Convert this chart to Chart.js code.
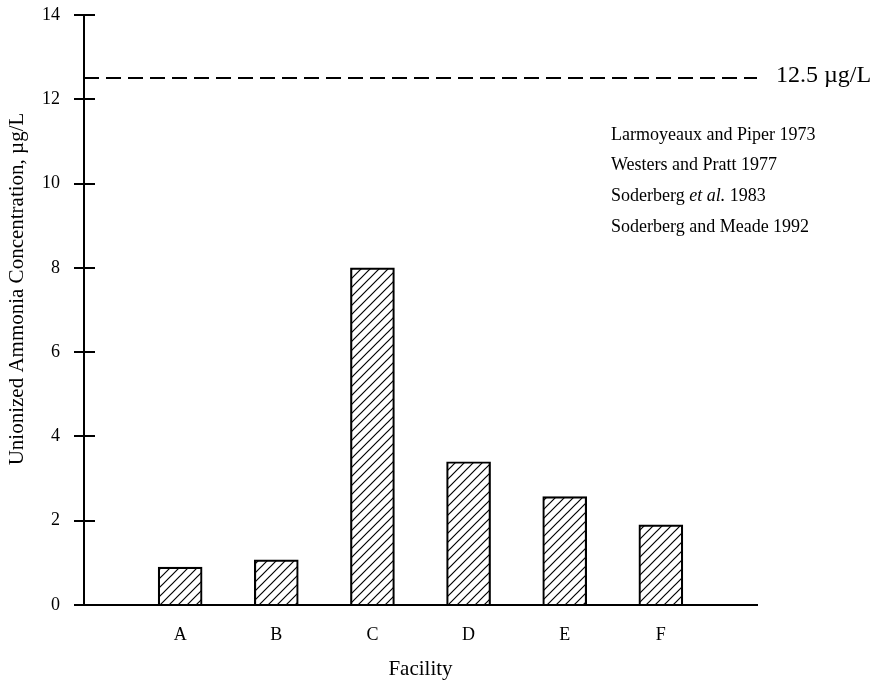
<!DOCTYPE html>
<html>
<head>
<meta charset="utf-8">
<script src="https://cdn.jsdelivr.net/npm/chart.js@4/dist/chart.umd.min.js"></script>
<style>
  html, body { margin: 0; padding: 0; background: #fff; }
  canvas { display: block; }
</style>
</head>
<body>
<canvas id="chart" width="877" height="685"></canvas>
<script>
// data
const facilities = ["A", "B", "C", "D", "E", "F"];
const concentrations = [0.9, 1.07, 8.0, 3.4, 2.57, 1.9];
const yMax = 14;
const yStep = 2;
const threshold = 12.5;
const thresholdLabel = "12.5 \u00b5g/L";
const yTitle = "Unionized Ammonia Concentration, \u00b5g/L";
const xTitle = "Facility";
const references = [
  ["Larmoyeaux and Piper 1973"],
  ["Westers and Pratt 1977"],
  ["Soderberg ", "et al.", " 1983"],
  ["Soderberg and Meade 1992"],
];

const serif = "'Liberation Serif', 'DejaVu Serif', serif";
const canvas = document.getElementById("chart");
const ctx = canvas.getContext("2d");

// diagonal hatch for the bars
function hatchPattern() {
  const n = 9;
  const c = document.createElement("canvas");
  c.width = n;
  c.height = n;
  const g = c.getContext("2d");
  g.strokeStyle = "#000";
  g.lineWidth = 1.2;
  g.beginPath();
  g.moveTo(0, n);
  g.lineTo(n, 0);
  g.moveTo(-1, 1);
  g.lineTo(1, -1);
  g.moveTo(n - 1, n + 1);
  g.lineTo(n + 1, n - 1);
  g.stroke();
  return ctx.createPattern(c, "repeat");
}

// empty slots at both ends so the bars sit one step in from the axis ends
const labels = ["", ...facilities, ""];
const values = [null, ...concentrations, null];

const extras = {
  id: "extras",
  afterDraw(chart) {
    const { ctx, chartArea, scales } = chart;
    const y = scales.y;
    ctx.save();
    // tick marks crossing the y axis
    ctx.strokeStyle = "#000";
    ctx.lineWidth = 2;
    y.ticks.forEach((t) => {
      const py = Math.round(y.getPixelForValue(t.value));
      ctx.beginPath();
      ctx.moveTo(chartArea.left - 10, py);
      ctx.lineTo(chartArea.left + 11, py);
      ctx.stroke();
    });
    // dashed threshold line
    const ty = Math.round(y.getPixelForValue(threshold));
    ctx.setLineDash([15, 7]);
    ctx.lineWidth = 2;
    ctx.beginPath();
    ctx.moveTo(chartArea.left, ty);
    ctx.lineTo(chartArea.right, ty);
    ctx.stroke();
    ctx.setLineDash([]);
    ctx.fillStyle = "#000";
    ctx.textBaseline = "middle";
    ctx.font = "24px " + serif;
    ctx.fillText(thresholdLabel, chartArea.right + 19, ty - 2);
    // reference list
    references.forEach((parts, i) => {
      let x = 611;
      const py = 135 + i * 30.7;
      parts.forEach((p, j) => {
        ctx.font = (j === 1 ? "italic " : "") + "18px " + serif;
        ctx.fillText(p, x, py);
        x += ctx.measureText(p).width;
      });
    });
    // y axis title
    ctx.translate(17, 289);
    ctx.rotate(-Math.PI / 2);
    ctx.textAlign = "center";
    ctx.font = "21px " + serif;
    ctx.fillText(yTitle, 0, 0);
    ctx.restore();
  },
};

new Chart(canvas, {
  type: "bar",
  data: {
    labels: labels,
    datasets: [
      {
        data: values,
        backgroundColor: hatchPattern(),
        borderColor: "#000",
        borderWidth: 1.5,
        barThickness: 44,
      },
    ],
  },
  options: {
    responsive: false,
    devicePixelRatio: 1,
    animation: false,
    layout: { padding: { left: 0, right: 120, top: 15, bottom: 0 } },
    plugins: { legend: { display: false }, tooltip: { enabled: false } },
    scales: {
      x: {
        offset: false,
        grid: { display: false, drawTicks: false },
        border: { color: "#000", width: 2 },
        ticks: {
          color: "#000",
          font: { family: serif, size: 18 },
          padding: 19,
          autoSkip: false,
          maxRotation: 0,
        },
        title: {
          display: true,
          text: xTitle,
          color: "#000",
          font: { family: serif, size: 21 },
          padding: { top: 0, bottom: 3 },
        },
        afterFit: (s) => {
          s.height = 80;
          s.paddingLeft = 0;
          s.paddingRight = 0;
        },
      },
      y: {
        min: 0,
        max: yMax,
        grid: { display: false, drawTicks: false },
        border: { color: "#000", width: 2 },
        ticks: {
          stepSize: yStep,
          color: "#000",
          font: { family: serif, size: 18 },
          padding: 24,
        },
        afterFit: (s) => {
          s.width = 84;
          s.paddingTop = 0;
          s.paddingBottom = 0;
        },
      },
    },
  },
  plugins: [extras],
});
</script>
</body>
</html>
